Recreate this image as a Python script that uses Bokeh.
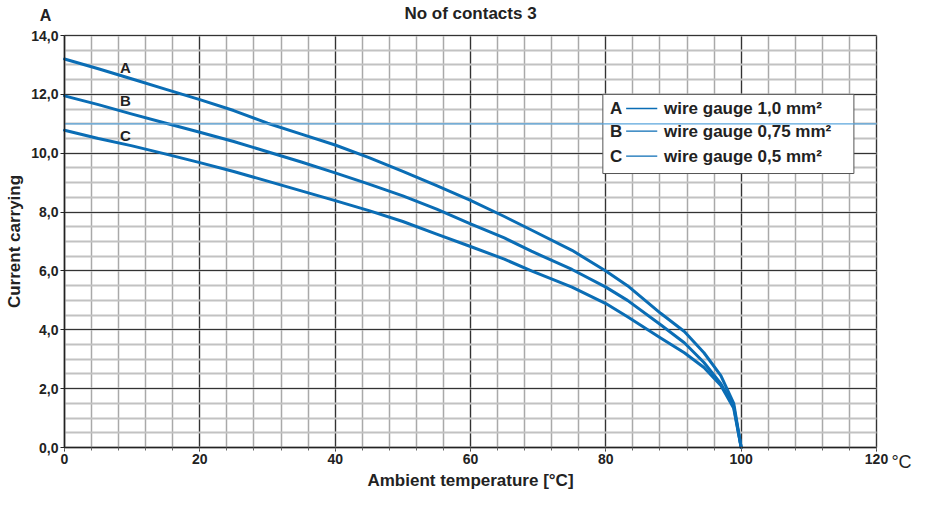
from bokeh.plotting import figure
from bokeh.models import FixedTicker, Label, Range1d
from bokeh.embed import file_html
from bokeh.resources import INLINE

# ---- data ----
temp = [0, 5, 10, 15, 20, 25, 30, 35, 40, 45, 50, 55, 60, 65, 69, 75, 80,
        83.2, 88.1, 91.6, 94.5, 97, 98.9, 100]
current_a = [13.2, 12.87, 12.52, 12.17, 11.82, 11.45, 11.02, 10.65, 10.28, 9.85,
             9.38, 8.9, 8.4, 7.85, 7.39, 6.7, 6.0, 5.5, 4.56, 3.94, 3.22, 2.44, 1.5, 0.0]
current_b = [11.95, 11.65, 11.33, 11.02, 10.71, 10.4, 10.05, 9.7, 9.33, 8.95,
             8.55, 8.1, 7.6, 7.12, 6.67, 6.05, 5.45, 5.0, 4.17, 3.56, 2.89, 2.17, 1.39, 0.0]
current_c = [10.78, 10.5, 10.25, 9.97, 9.68, 9.38, 9.05, 8.72, 8.39, 8.05,
             7.68, 7.25, 6.83, 6.4, 6.0, 5.45, 4.89, 4.44, 3.72, 3.22, 2.72, 2.11, 1.33, 0.0]
series_letters = ["A", "B", "C"]
legend_texts = ["wire gauge 1,0 mm\u00b2", "wire gauge 0,75 mm\u00b2", "wire gauge 0,5 mm\u00b2"]
ref_current = 11.0
x_ticks = [0, 20, 40, 60, 80, 100, 120]
y_ticks = [0, 2, 4, 6, 8, 10, 12, 14]
y_tick_labels = ["0,0", "2,0", "4,0", "6,0", "8,0", "10,0", "12,0", "14,0"]
title_text = "No of contacts 3"
x_label = "Ambient temperature [\u00b0C]"
y_label = "Current carrying"
y_unit = "A"
x_unit = "\u00b0C"

# ---- layout ----
W, H = 913, 495
FL, FR, FT, FB = 64, 876, 35, 447          # pixel box of the 0..120 x 0..14 grid
X0, X1 = x_ticks[0], x_ticks[-1]
Y0, Y1 = y_ticks[0], y_ticks[-1]
sx = (FR - FL) / (X1 - X0)
sy = (FB - FT) / (Y1 - Y0)
x_range = Range1d(X0 - FL / sx, X1 + (W - FR) / sx)
y_range = Range1d(Y0 - (H - FB) / sy, Y1 + FT / sy)

FONT = "Liberation Sans"
TXT = "#222222"
BLUE = "#0a6db5"
LBLUE = "#5ba6dc"

minor_x = list(range(0, 121, 4))
minor_y = [i * 0.5 for i in range(29)]

p = figure(width=W, height=H, x_range=x_range, y_range=y_range, title=None,
           output_backend="svg", toolbar_location=None,
           min_border=0, min_border_left=0, min_border_right=0,
           min_border_top=0, min_border_bottom=0)
p.outline_line_color = None
p.background_fill_color = "white"
p.border_fill_color = "white"

# grids limited to the chart box
p.xgrid.ticker = FixedTicker(ticks=x_ticks, minor_ticks=minor_x)
p.ygrid.ticker = FixedTicker(ticks=y_ticks, minor_ticks=minor_y)
p.xgrid.bounds = (X0, X1)
p.ygrid.bounds = (Y0, Y1)
p.xgrid.cross_bounds = (Y0, Y1)
p.ygrid.cross_bounds = (X0, X1)
p.xgrid.grid_line_color = "#333333"
p.xgrid.grid_line_width = 1.2
p.xgrid.minor_grid_line_color = "#a9a9a9"
p.xgrid.minor_grid_line_width = 1.5
p.ygrid.grid_line_color = "#333333"
p.ygrid.grid_line_width = 1.2
p.ygrid.minor_grid_line_color = "#c2c2c2"
p.ygrid.minor_grid_line_width = 2

# axes fixed at the data origin
p.xaxis.fixed_location = Y0
p.yaxis.fixed_location = X0
p.xaxis.bounds = (X0, X1)
p.yaxis.bounds = (Y0, Y1)
p.xaxis.ticker = FixedTicker(ticks=x_ticks, minor_ticks=minor_x)
p.yaxis.ticker = FixedTicker(ticks=y_ticks, minor_ticks=minor_y)
p.yaxis.major_label_overrides = {t: l for t, l in zip(y_ticks, y_tick_labels)}
for ax in (p.xaxis, p.yaxis):
    ax.axis_line_color = "#222222"
    ax.axis_line_width = 1.5
    ax.major_tick_line_color = "#222222"
    ax.major_tick_out = 4
    ax.major_tick_in = 0
    ax.major_label_text_font = FONT
    ax.major_label_text_font_size = "14px"
    ax.major_label_text_font_style = "bold"
    ax.major_label_text_color = TXT
    ax.major_label_standoff = 2
    ax.axis_label_text_font = FONT
    ax.axis_label_text_font_size = "17px"
    ax.axis_label_text_font_style = "bold"
    ax.axis_label_text_color = TXT
    ax.axis_label_standoff = 4
p.xaxis.minor_tick_out = 3
p.xaxis.minor_tick_in = 0
p.xaxis.minor_tick_line_color = "#666666"
p.yaxis.minor_tick_out = 0
p.yaxis.minor_tick_in = 0
p.xaxis.axis_label = x_label
p.yaxis.axis_label = y_label

# curves
for cur in (current_a, current_b, current_c):
    p.line(temp, cur, line_width=3, line_color=BLUE, line_join="round", line_cap="round")

# curve letters
for letter, yy in zip(series_letters, [12.92, 11.8, 10.6]):
    p.add_layout(Label(x=9.0, y=yy, text=letter, text_font=FONT, text_font_size="15px",
                       text_font_style="bold", text_color=TXT, text_align="center",
                       text_baseline="middle"))

# legend box
p.quad(left=[79.56], right=[116.66], top=[12.0], bottom=[9.31], fill_color="white",
       line_color="#555555", line_width=1)
row_y = [11.52, 10.75, 9.9]
p.segment(x0=[83.0] * 3, x1=[87.6] * 3, y0=row_y, y1=row_y, line_color=BLUE, line_width=1.3)
for letter, txt, yy in zip(series_letters, legend_texts, row_y):
    p.add_layout(Label(x=80.6, y=yy, text=letter, text_font=FONT, text_font_size="17px",
                       text_font_style="bold", text_color=TXT, text_align="left",
                       text_baseline="middle"))
    p.add_layout(Label(x=88.6, y=yy, text=txt, text_font=FONT, text_font_size="17px",
                       text_font_style="bold", text_color=TXT, text_align="left",
                       text_baseline="middle"))

# reference line across the chart
p.line([X0, X1], [ref_current, ref_current], line_color=LBLUE, line_width=1.2)

# title and unit labels
p.add_layout(Label(x=(X0 + X1) / 2, y=Y1 + 22 / sy, text=title_text, text_font=FONT,
                   text_font_size="17px", text_font_style="bold", text_color=TXT,
                   text_align="center", text_baseline="middle"))
p.add_layout(Label(x=X0 - 19 / sx, y=Y1 + 20 / sy, text=y_unit, text_font=FONT,
                   text_font_size="16px", text_font_style="bold", text_color=TXT,
                   text_align="center", text_baseline="middle"))
p.add_layout(Label(x=X1 + 25 / sx, y=Y0 - 14 / sy, text=x_unit, text_font=FONT,
                   text_font_size="18px", text_color=TXT, text_align="center",
                   text_baseline="middle"))

open("out.html", "w").write(file_html(p, INLINE))
